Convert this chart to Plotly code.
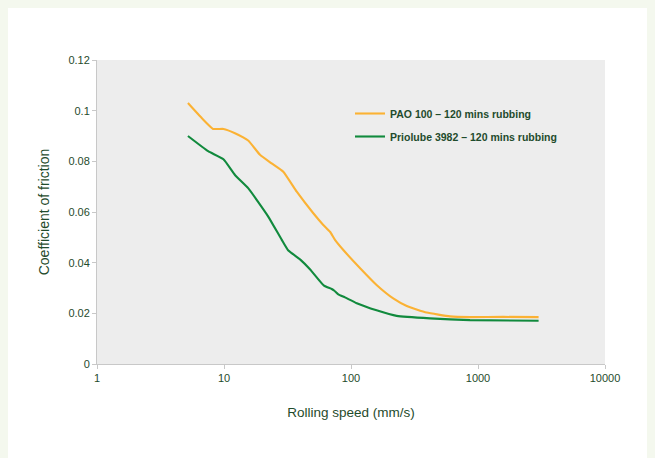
import plotly.graph_objects as go

pao_x = [5.2, 6.7, 8.2, 9.9, 12.2, 15.5, 19.2, 23.7, 29.3, 37.4, 50.5, 60.5, 68.4, 74.8, 87, 118, 159, 215, 275, 394, 602, 865, 1580, 3000]
pao_y = [0.103, 0.097, 0.0928, 0.0928, 0.0911, 0.0882, 0.0826, 0.0792, 0.0759, 0.068, 0.0595, 0.0549, 0.0522, 0.049, 0.045, 0.0378, 0.0312, 0.0259, 0.0229, 0.0203, 0.0188, 0.0185, 0.0186, 0.0185]

prio_x = [5.2, 7.5, 9.9, 12.2, 15.5, 22.3, 28.5, 32.1, 39.7, 47.5, 61.3, 70.5, 74.0, 79.4, 89.7, 111, 159, 229, 419, 865, 3000]
prio_y = [0.0900, 0.0840, 0.0808, 0.0746, 0.0694, 0.0582, 0.049, 0.0448, 0.0413, 0.0374, 0.0309, 0.0296, 0.0289, 0.0275, 0.0263, 0.0240, 0.0212, 0.0190, 0.0180, 0.0173, 0.0171]

names = ["PAO 100 – 120 mins rubbing", "Priolube 3982 – 120 mins rubbing"]
colors = ["#fbb234", "#118a3d"]

x_ticks = [1, 10, 100, 1000, 10000]
x_tick_labels = ["1", "10", "100", "1000", "10000"]
y_ticks = [0, 0.02, 0.04, 0.06, 0.08, 0.1, 0.12]
y_tick_labels = ["0", "0.02", "0.04", "0.06", "0.08", "0.1", "0.12"]

text_color = "#1f4b2c"
font_family = "Liberation Sans, Arial, sans-serif"

fig = go.Figure()
for i, (xs, ys) in enumerate([(pao_x, pao_y), (prio_x, prio_y)]):
    fig.add_trace(go.Scatter(
        x=xs, y=ys, mode="lines", name=names[i], legendgroup=str(i),
        line=dict(color=colors[i], width=2.1, shape="spline", smoothing=0.4),
    ))

# figure is placed at page offset (8, 8) by the page's body margin
W, H = 647, 450
L, R, T, B = 89, 50, 52, 94
pw, ph = W - L - R, H - T - B

def px_to_paper_x(px):
    return (px - L) / pw

def px_to_paper_y(py):
    return (H - B - py) / ph

fig.update_layout(
    width=W, height=H,
    margin=dict(l=L, r=R, t=T, b=B),
    paper_bgcolor="white",
    plot_bgcolor="#ededed",
    font=dict(family=font_family, color=text_color, size=11),
    showlegend=True,
    legend=dict(
        x=px_to_paper_x(342), y=px_to_paper_y(91),
        xanchor="left", yanchor="top",
        bgcolor="rgba(0,0,0,0)",
        font=dict(size=10.5, color=text_color, family=font_family, weight="bold"),
        tracegroupgap=4,
        traceorder="grouped",
    ),
    xaxis=dict(
        type="log", range=[0, 4],
        tickvals=x_ticks, ticktext=x_tick_labels,
        showgrid=False, zeroline=False,
        showline=True, linecolor="#c8c8c8", linewidth=1,
        ticks="outside", ticklen=4, tickcolor="#c8c8c8",
        tickfont=dict(size=11, color=text_color),
        title=dict(text="Rolling speed (mm/s)", font=dict(size=13.5, color=text_color), standoff=24),
    ),
    yaxis=dict(
        range=[0, 0.12],
        tickvals=y_ticks, ticktext=y_tick_labels,
        showgrid=False, zeroline=False,
        showline=True, linecolor="#c8c8c8", linewidth=1,
        ticks="outside", ticklen=4, tickcolor="#c8c8c8",
        tickfont=dict(size=11, color=text_color),
        title=dict(text="Coefficient of friction", font=dict(size=14, color=text_color), standoff=15),
    ),
)

fig.write_html(
    "out.html",
    post_script="document.body.style.background='#f4f8ee';",
)
